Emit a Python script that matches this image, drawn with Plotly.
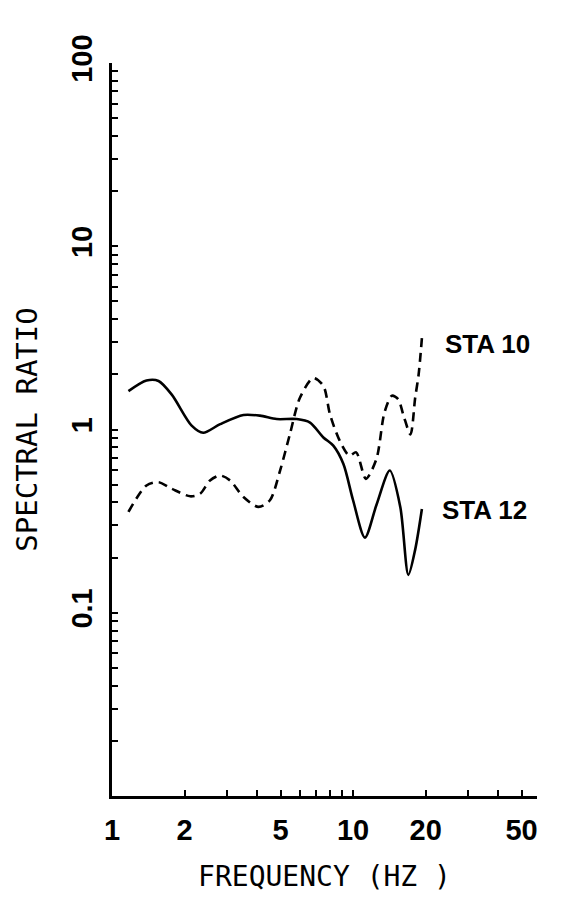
import plotly.graph_objects as go

# STA 12 (solid)
sta12_freq = [1.17, 1.39, 1.56, 1.77, 2.14, 2.39, 2.81, 3.51, 4.11, 4.82, 5.84, 6.63,
              7.53, 8.28, 9.12, 10.0, 11.2, 12.5, 14.2, 15.7, 16.96, 18.1, 19.3]
sta12_ratio = [1.62, 1.85, 1.84, 1.55, 1.05, 0.96, 1.07, 1.20, 1.19, 1.14, 1.14, 1.09,
               0.905, 0.816, 0.648, 0.411, 0.257, 0.387, 0.597, 0.378, 0.161, 0.221, 0.368]

# STA 10 (dashed)
sta10_freq = [1.17, 1.39, 1.56, 1.77, 2.11, 2.32, 2.55, 2.81, 3.09, 3.51, 4.05, 4.52,
              4.98, 5.47, 6.02, 6.84, 7.53, 8.02, 8.80, 9.65, 10.3, 11.3, 12.5, 13.5,
              14.5, 15.4, 16.2, 17.3, 18.1, 18.7, 19.3]
sta10_ratio = [0.355, 0.495, 0.516, 0.475, 0.432, 0.446, 0.527, 0.561, 0.527, 0.428, 0.378, 0.411,
               0.597, 0.943, 1.49, 1.91, 1.73, 1.21, 0.869, 0.720, 0.750, 0.538, 0.690, 1.24,
               1.53, 1.46, 1.19, 0.94, 1.49, 1.99, 3.15]

x_tickvals = [1, 2, 3, 4, 5, 6, 7, 8, 9, 10, 20, 30, 40, 50]
x_ticktext = ["1", "2", "", "", "5", "", "", "", "", "10", "20", "", "", "50"]

y_tickvals = []
y_ticktext = []
for dec, lab in [(0.01, ""), (0.1, "0.1"), (1, "1"), (10, "10")]:
    for d in range(1, 10):
        y_tickvals.append(round(dec * d, 6))
        y_ticktext.append(lab if d == 1 else "")
y_tickvals.append(100)
y_ticktext.append("100")

fig = go.Figure()
fig.add_trace(go.Scatter(x=sta12_freq, y=sta12_ratio, mode="lines",
                         line=dict(color="black", width=2.6, shape="spline", smoothing=0.8),
                         showlegend=False))
fig.add_trace(go.Scatter(x=sta10_freq, y=sta10_ratio, mode="lines",
                         line=dict(color="black", width=2.6, shape="spline", smoothing=0.8,
                                   dash="9px,6px"),
                         showlegend=False))

lab_font = dict(family="Liberation Sans", size=29, color="black", weight="bold")
ann_font = dict(family="Liberation Sans", size=26, color="black", weight="bold")
# plot area in page pixels: x 112..537, y 63..801
fig.add_annotation(xref="paper", yref="paper", x=(443 - 112) / 425, y=(801 - 346) / 738,
                   text="STA 10", showarrow=False, xanchor="left", yanchor="middle",
                   font=ann_font)
fig.add_annotation(xref="paper", yref="paper", x=(440 - 112) / 425, y=(801 - 513) / 738,
                   text="STA 12", showarrow=False, xanchor="left", yanchor="middle",
                   font=ann_font)

fig.update_xaxes(type="log", range=[0, 1.763], showgrid=False, zeroline=False,
                 showline=True, linecolor="black", linewidth=2.5,
                 ticks="inside", ticklen=6, tickwidth=2, tickcolor="black",
                 tickmode="array", tickvals=x_tickvals, ticktext=x_ticktext,
                 tickfont=lab_font, ticklabelstandoff=6,
                 title=dict(text="FREQUENCY (HZ )", standoff=22,
                            font=dict(family="DejaVu Sans Mono", size=28, color="black")))
fig.update_yaxes(type="log", range=[-2, 2], showgrid=False, zeroline=False,
                 showline=True, linecolor="black", linewidth=2.5,
                 ticks="inside", ticklen=6, tickwidth=2, tickcolor="black",
                 tickmode="array", tickvals=y_tickvals, ticktext=y_ticktext,
                 tickangle=-90, tickfont=lab_font, ticklabelstandoff=6,
                 title=dict(text="SPECTRAL RATIO", standoff=20,
                            font=dict(family="DejaVu Sans Mono", size=29, color="black")))

# page body has an 8px margin, so the figure is 8px smaller and margins shifted
fig.update_layout(width=561, height=891, margin=dict(l=104, r=32, t=55, b=90),
                  plot_bgcolor="white", paper_bgcolor="white")

fig.write_html("out.html")
